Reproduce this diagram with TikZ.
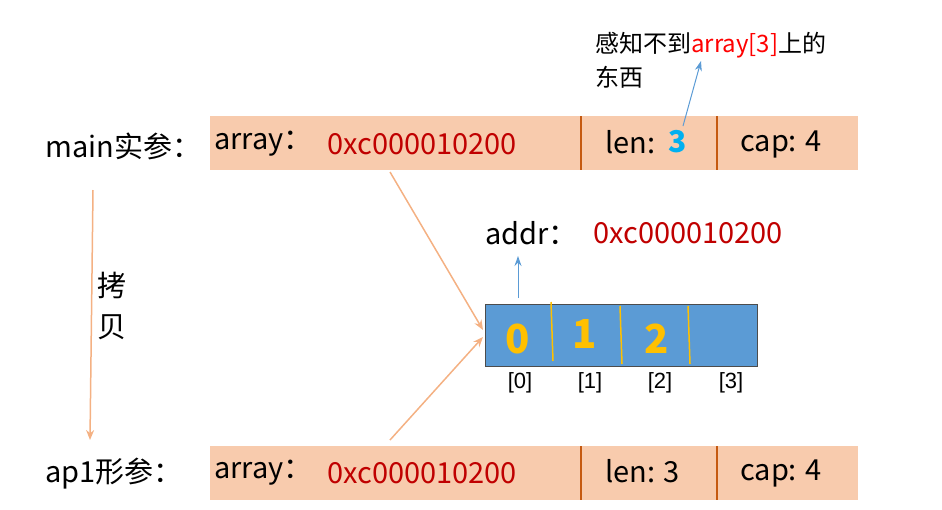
\documentclass[tikz,border=0pt]{standalone}
\usepackage{fontspec}
\setmainfont{Noto Sans CJK SC}
\newfontfamily\idxfont{Liberation Sans}
\usetikzlibrary{arrows.meta}
\definecolor{peach}{HTML}{F8CBAD}
\definecolor{divo}{HTML}{C55A11}
\definecolor{redt}{HTML}{C00000}
\definecolor{bluet}{HTML}{00B0F0}
\definecolor{arrblue}{HTML}{5B9BD5}
\definecolor{yel}{HTML}{FFC000}
\definecolor{oarr}{HTML}{F4B183}
\tikzset{
  bar/.style={fill=peach,draw=none},
  div/.style={draw=divo,line width=1.5pt},
  txt/.style={font=\fontsize{29}{32}\selectfont,inner sep=0pt,anchor=west},
  idx/.style={font=\idxfont\fontsize{22}{26}\selectfont,inner sep=0pt},
  dig/.style={font=\fontsize{40}{44}\selectfont\bfseries,text=yel,inner sep=0pt},
  oar/.style={draw=oarr,line width=1.5pt,-{Stealth[length=10pt,width=8pt]}},
  bar2/.style={draw=arrblue,line width=1pt,-{Stealth[length=10pt,width=7pt]}}
}
\begin{document}
\begin{tikzpicture}[x=1pt,y=-1pt]
\useasboundingbox (0,0) rectangle (942,509);
% top bar
\node[bar,minimum width=648pt,minimum height=54pt,inner sep=0pt,anchor=north west] (top) at (210,116) {};
\draw[div] (581,116) -- (581,170);
\draw[div] (717,116) -- (717,170);
\node[txt] (mainl) at (45,146) {main实参：};
\node[txt] (ta) at (214,144) {array：};
\node[txt,text=redt] (tad) at (327,144) {0xc000010200};
\node[txt] (tl) at (605,142) {len:};
\node[txt,text=bluet,font=\fontsize{30}{34}\selectfont\bfseries] (t3) at (668,142) {3};
\node[txt] (tc) at (740,144) {cap: 4};
% bottom bar
\node[bar,minimum width=648pt,minimum height=54pt,inner sep=0pt,anchor=north west] (bot) at (210,446) {};
\draw[div] (581,446) -- (581,500);
\draw[div] (717,446) -- (717,500);
\node[txt] (apl) at (45,474) {ap1形参：};
\node[txt] (ba) at (214,473) {array：};
\node[txt,text=redt] (bad) at (327,473) {0xc000010200};
\node[txt] (bl) at (605,471) {len: 3};
\node[txt] (bc) at (740,473) {cap: 4};
% array
\node[fill=arrblue,draw=black!70,line width=1pt,minimum width=272pt,minimum height=62pt,inner sep=0pt,anchor=north west] (arr) at (485,304) {};
\draw[yel,line width=1.5pt] (551,302) -- (553,361);
\draw[yel,line width=1.5pt] (620,306) -- (622,364);
\draw[yel,line width=1.5pt] (688,306) -- (690,364);
\node[dig] (d0) at (518,339) {0};
\node[dig] (d1) at (585,334) {1};
\node[dig] (d2) at (657,339) {2};
\node[idx] (i0) at (520,383) {[0]};
\node[idx] (i1) at (590,383) {[1]};
\node[idx] (i2) at (660,383) {[2]};
\node[idx] (i3) at (731,383) {[3]};
% addr
\node[txt] (addr) at (485,233) {addr：};
\node[txt,text=redt] (addrv) at (593,233) {0xc000010200};
\coordinate (ab) at (518,298);
\coordinate (at) at (518,256);
\draw[bar2] (ab) -- (at);
% orange arrows
\coordinate (s1) at (390,172);
\coordinate (e1) at (483,330);
\coordinate (s2) at (390,440);
\coordinate (e2) at (483,337);
\draw[oar] (s1) -- (e1);
\draw[oar] (s2) -- (e2);
\coordinate (cs) at (93,190);
\coordinate (ce) at (90,440);
\draw[oar] (cs) -- (ce);
\node[txt] (k1) at (97,285) {拷};
\node[txt] (k2) at (97,327) {贝};
% annotation
\node[txt,font=\fontsize{24}{28}\selectfont] (n1) at (595,45) {感知不到\textcolor{red}{array[3]}上的};
\node[txt,font=\fontsize{24}{28}\selectfont] (n2) at (595,77) {东西};
\coordinate (na) at (683,126);
\coordinate (nb) at (701,61);
\draw[bar2] (na) -- (nb);
\end{tikzpicture}
\end{document}
